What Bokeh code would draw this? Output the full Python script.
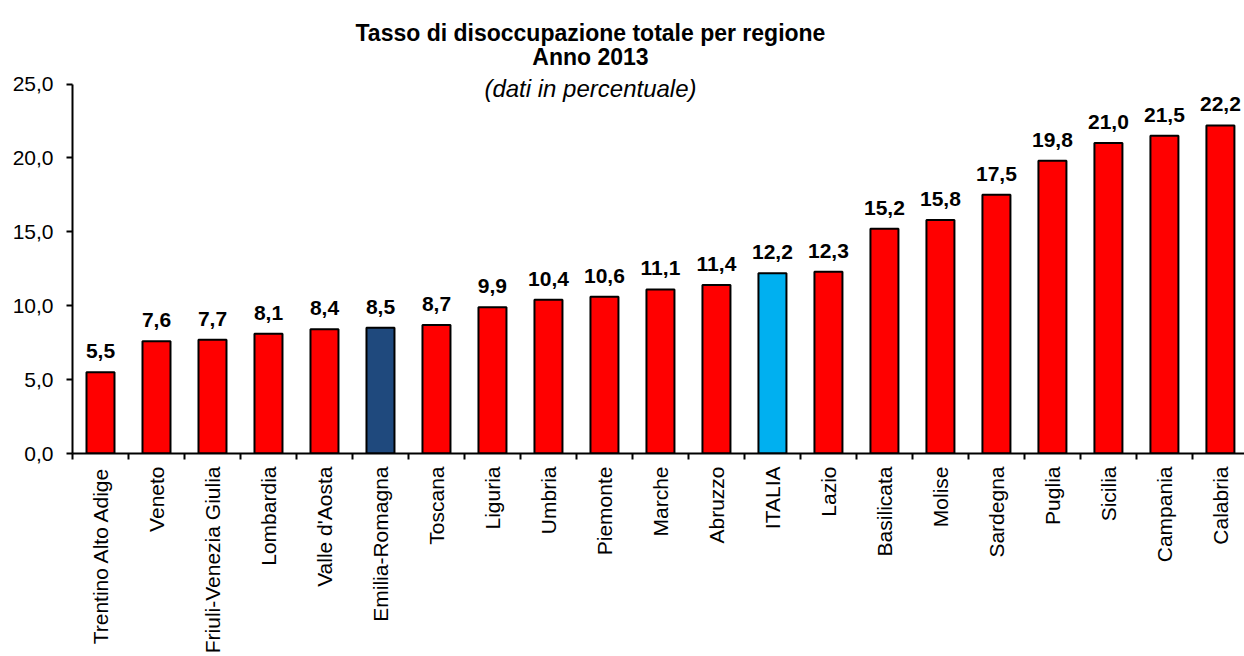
from bokeh.plotting import figure
from bokeh.models import Range1d, FixedTicker, Label, ColumnDataSource, LabelSet
from bokeh.core.properties import value
from bokeh.embed import file_html
from bokeh.resources import INLINE
import math

regions = ["Trentino Alto Adige", "Veneto", "Friuli-Venezia Giulia", "Lombardia",
           "Valle d'Aosta", "Emilia-Romagna", "Toscana", "Liguria", "Umbria",
           "Piemonte", "Marche", "Abruzzo", "ITALIA", "Lazio", "Basilicata",
           "Molise", "Sardegna", "Puglia", "Sicilia", "Campania", "Calabria"]
rates = [5.5, 7.6, 7.7, 8.1, 8.4, 8.5, 8.7, 9.9, 10.4, 10.6, 11.1, 11.4, 12.2,
         12.3, 15.2, 15.8, 17.5, 19.8, 21.0, 21.5, 22.2]
y_ticks = [0, 5, 10, 15, 20, 25]
title_lines = ["Tasso di disoccupazione totale per regione", "Anno 2013", "(dati in percentuale)"]

RED = "#FF0000"
highlight = {"Emilia-Romagna": "#1F497D", "ITALIA": "#00B0F0"}
colors = [highlight.get(r, RED) for r in regions]
xs = [i + 0.5 for i in range(len(regions))]
labels = [f"{v:.1f}".replace(".", ",") for v in rates]

FONT = "Liberation Sans"

src = ColumnDataSource(dict(x=xs, top=rates, color=colors, label=labels))

p = figure(width=1244, height=656, output_backend="svg", toolbar_location=None,
           x_range=Range1d(0, 20.93), y_range=Range1d(0, 30.65),
           min_border_left=72, min_border_right=0, min_border_top=0, min_border_bottom=203)
p.outline_line_color = None
p.grid.grid_line_color = None
p.background_fill_color = "white"

p.vbar(x="x", top="top", width=0.5, bottom=0, fill_color="color",
       line_color="black", line_width=2, source=src)

ls = LabelSet(x="x", y="top", text="label", source=src, text_align="center",
              text_baseline="alphabetic", y_offset=14,
              text_font=value(FONT), text_font_size="21px", text_font_style="bold",
              text_color="black")
p.add_layout(ls)

# y axis
ya = p.yaxis[0]
ya.ticker = FixedTicker(ticks=y_ticks, minor_ticks=[])
ya.major_label_overrides = {t: f"{t:.1f}".replace(".", ",") for t in y_ticks}
ya.bounds = (0, 25)
ya.axis_line_width = 2
ya.axis_line_color = "black"
ya.major_tick_line_width = 2
ya.major_tick_in = 0
ya.major_tick_out = 6
ya.minor_tick_line_color = None
ya.major_label_text_font = FONT
ya.major_label_text_font_size = "21px"
ya.major_label_text_color = "black"
ya.major_label_standoff = 13

# x axis
xa = p.xaxis[0]
xa.ticker = FixedTicker(ticks=xs, minor_ticks=list(range(len(regions) + 1)))
xa.major_label_overrides = {x: r for x, r in zip(xs, regions)}
xa.axis_line_width = 2
xa.axis_line_color = "black"
xa.major_tick_line_color = None
xa.major_tick_in = 0
xa.major_tick_out = 0
xa.minor_tick_line_color = "black"
xa.minor_tick_line_width = 2
xa.minor_tick_in = 0
xa.minor_tick_out = 6
xa.major_label_orientation = math.pi / 2
xa.major_label_text_font = FONT
xa.major_label_text_font_size = "21px"
xa.major_label_text_color = "black"
xa.major_label_standoff = 7

title_x = 9.25
for text, y, style, size in [(title_lines[0], 28.42, "bold", "23px"),
                              (title_lines[1], 26.85, "bold", "23px"),
                              (title_lines[2], 24.70, "italic", "24px")]:
    p.add_layout(Label(x=title_x, y=y, text=text, text_align="center",
                       text_baseline="middle", text_font=FONT, text_font_size=size,
                       text_font_style=style, text_color="black"))

open("out.html", "w").write(file_html(p, INLINE))
